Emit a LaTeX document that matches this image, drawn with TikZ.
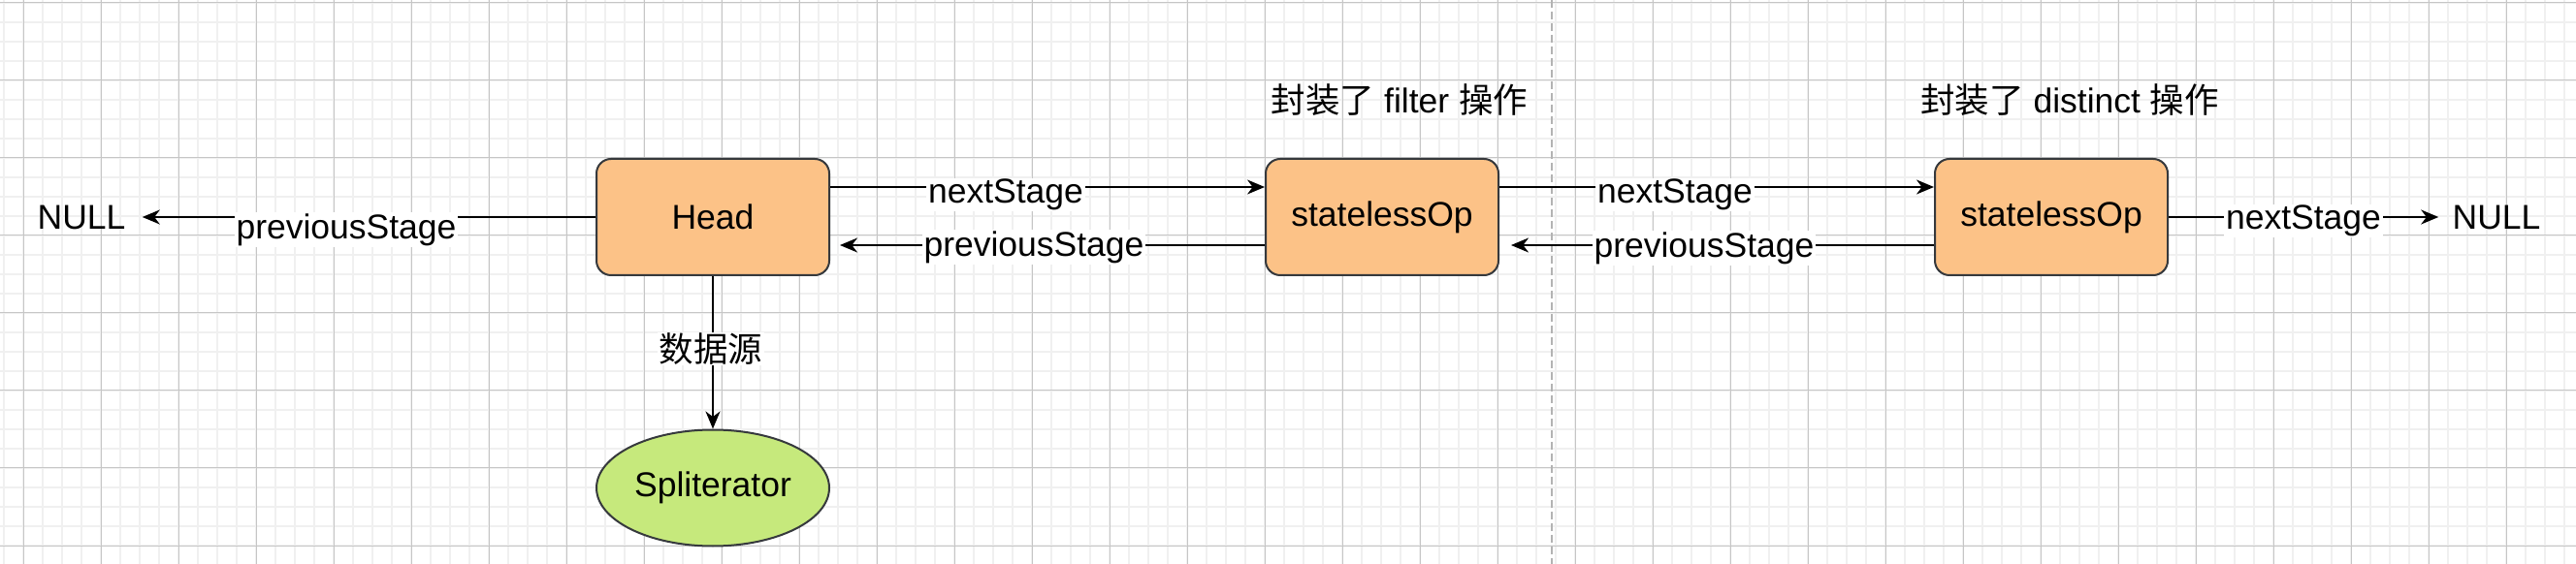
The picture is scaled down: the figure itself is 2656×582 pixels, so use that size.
\documentclass[tikz,border=0pt]{standalone}
\usepackage{fontspec}
\setmainfont{Liberation Sans}
\newfontfamily\cjk{Noto Sans CJK SC}
\usetikzlibrary{arrows.meta,shapes.geometric}
\definecolor{boxorange}{RGB}{252,194,135}
\definecolor{boxgreen}{RGB}{198,233,124}
\definecolor{boxline}{HTML}{36393D}
\definecolor{gridminor}{HTML}{F0F0F0}
\definecolor{gridmajor}{HTML}{C6C6C6}
\definecolor{dashgray}{HTML}{B3B3B3}
\begin{document}
\begin{tikzpicture}[x=0.5pt,y=-0.5pt,
  every node/.style={font=\fontsize{17.75}{21}\selectfont},
  stagebox/.style={draw=boxline,line width=1pt,fill=boxorange,rounded corners=7.5pt,minimum width=120pt,minimum height=60pt,inner sep=0pt},
  srcellipse/.style={ellipse,draw=boxline,line width=1pt,fill=boxgreen,minimum width=120pt,minimum height=60pt,inner sep=0pt},
  edgelabel/.style={fill=white,inner xsep=1pt,inner ysep=0.5pt},
  plaintext/.style={inner sep=0pt},
  link/.style={line width=1pt,-{Stealth[length=9pt,width=7.5pt,inset=2.8pt]}},
  minorline/.style={gridminor,line width=0.8pt},
  majorline/.style={gridmajor,line width=0.5pt},
]
\useasboundingbox (0,0) rectangle (2656,582);
\fill[white] (0,0) rectangle (2656,582);
% grid
\foreach \i in {0,...,132} \draw[minorline] (4+20*\i,0) -- (4+20*\i,582);
\foreach \j in {0,...,28} \draw[minorline] (0,3+20*\j) -- (2656,3+20*\j);
\foreach \i in {0,...,32} \draw[majorline] (24+80*\i,0) -- (24+80*\i,582);
\foreach \j in {0,...,7} \draw[majorline] (0,3+80*\j) -- (2656,3+80*\j);
% separator
\coordinate (sepTop) at (1600,0);
\coordinate (sepBot) at (1600,582);
\draw[dashgray,line width=1pt,dash pattern=on 4pt off 2pt] (sepTop) -- (sepBot);
% nodes
\node[stagebox] (head) at (735,224) {Head};
\node[stagebox] (op1) at (1425,224) {statelessOp};
\node[stagebox] (op2) at (2115,224) {statelessOp};
\node[srcellipse] (split) at (735,503.5) {Spliterator};
\node[plaintext,inner xsep=8.5pt] (nullL) at (84,224) {NULL};
\node[plaintext,inner xsep=7pt] (nullR) at (2574,224) {NULL};
\node[plaintext] (t1) at (1443,103) {{\cjk 封装了} filter {\cjk 操作}};
\node[plaintext] (t2) at (2134,103) {{\cjk 封装了} distinct {\cjk 操作}};
% edges
\draw[link] (head.west) -- (nullL.east);
\draw[link] ([yshift=15.5pt]head.east) -- ([yshift=15.5pt]op1.west);
\draw[link,shorten >=5pt] ([yshift=-14.5pt]op1.west) -- ([yshift=-14.5pt]head.east);
\draw[link] ([yshift=15.5pt]op1.east) -- ([yshift=15.5pt]op2.west);
\draw[link,shorten >=6pt] ([yshift=-14.5pt]op2.west) -- ([yshift=-14.5pt]op1.east);
\draw[link] (op2.east) -- (nullR.west);
\draw[link] (head.south) -- (split.north);
% edge labels
\node[edgelabel] (l1) at (357,237) {previousStage};
\node[edgelabel] (l2) at (1037,201) {nextStage};
\node[edgelabel] (l3) at (1066,255) {previousStage};
\node[edgelabel] (l4) at (1727,201) {nextStage};
\node[edgelabel] (l5) at (1757,256) {previousStage};
\node[edgelabel] (l6) at (2375,228) {nextStage};
\node[edgelabel] (l7) at (733,360) {\cjk 数据源};
\end{tikzpicture}
\end{document}
